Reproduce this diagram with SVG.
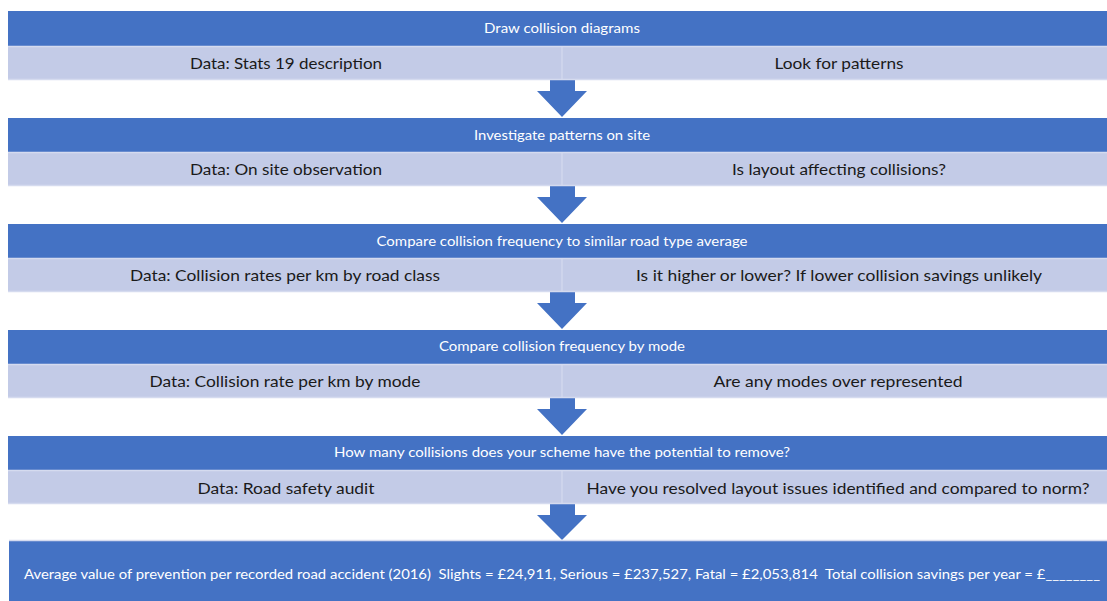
<svg xmlns="http://www.w3.org/2000/svg" width="1107" height="601" viewBox="0 0 1107 601">
<style>
.dark{fill:#4472C4}
.light{fill:#C3CBE7}
.edge{stroke:#D5DBEF;stroke-width:1.5;fill:none}
.div{stroke:#D8DDF0;stroke-width:1}
.t{font-family:Lato,"Liberation Sans",sans-serif;font-size:13px;fill:#FFFFFF;text-anchor:middle}
.s{font-family:Lato,"Liberation Sans",sans-serif;font-size:16px;fill:#1A1A1A;text-anchor:middle}
.b{font-family:Lato,"Liberation Sans",sans-serif;font-size:12.5px;fill:#FFFFFF;white-space:pre}
.arr{fill:#4472C4}
</style>
<rect width="1107" height="601" fill="#FFFFFF"/>
<g id="connectors">
<polygon class="arr" points="550,80 575,80 575,91 587,91 562,117 537,91 550,91"/>
<polygon class="arr" points="550,186 575,186 575,197 587,197 562,223 537,197 550,197"/>
<polygon class="arr" points="550,292 575,292 575,303 587,303 562,329 537,303 550,303"/>
<polygon class="arr" points="550,398 575,398 575,409 587,409 562,435 537,409 550,409"/>
<polygon class="arr" points="550,504 575,504 575,515 587,515 562,540 537,515 550,515"/>
</g>
<g id="step1">
<rect class="dark" x="8" y="11" width="1110" height="35"/>
<rect class="light" x="8" y="46" width="1110" height="34"/>
<line class="edge" x1="8" y1="46.5" x2="1107" y2="46.5"/>
<line class="edge" x1="8" y1="79.5" x2="1107" y2="79.5"/>
<line class="div" x1="562" y1="47" x2="562" y2="79"/>
<text class="t" x="562" y="33" textLength="156" lengthAdjust="spacingAndGlyphs">Draw collision diagrams</text>
<text class="s" x="286" y="69" textLength="192" lengthAdjust="spacingAndGlyphs">Data: Stats 19 description</text>
<text class="s" x="839" y="69" textLength="129" lengthAdjust="spacingAndGlyphs">Look for patterns</text>
</g>
<g id="step2">
<rect class="dark" x="8" y="118" width="1110" height="34"/>
<rect class="light" x="8" y="152" width="1110" height="34"/>
<line class="edge" x1="8" y1="152.5" x2="1107" y2="152.5"/>
<line class="edge" x1="8" y1="185.5" x2="1107" y2="185.5"/>
<line class="div" x1="562" y1="153" x2="562" y2="185"/>
<text class="t" x="562" y="139.5" textLength="176" lengthAdjust="spacingAndGlyphs">Investigate patterns on site</text>
<text class="s" x="286" y="175" textLength="192" lengthAdjust="spacingAndGlyphs">Data: On site observation</text>
<text class="s" x="839" y="175" textLength="214" lengthAdjust="spacingAndGlyphs">Is layout affecting collisions?</text>
</g>
<g id="step3">
<rect class="dark" x="8" y="224" width="1110" height="34"/>
<rect class="light" x="8" y="258" width="1110" height="34"/>
<line class="edge" x1="8" y1="258.5" x2="1107" y2="258.5"/>
<line class="edge" x1="8" y1="291.5" x2="1107" y2="291.5"/>
<line class="div" x1="562" y1="259" x2="562" y2="291"/>
<text class="t" x="562" y="245.5" textLength="371" lengthAdjust="spacingAndGlyphs">Compare collision frequency to similar road type average</text>
<text class="s" x="285" y="281" textLength="310" lengthAdjust="spacingAndGlyphs">Data: Collision rates per km by road class</text>
<text class="s" x="839" y="281" textLength="406" lengthAdjust="spacingAndGlyphs">Is it higher or lower? If lower collision savings unlikely</text>
</g>
<g id="step4">
<rect class="dark" x="8" y="330" width="1110" height="34"/>
<rect class="light" x="8" y="364" width="1110" height="34"/>
<line class="edge" x1="8" y1="364.5" x2="1107" y2="364.5"/>
<line class="edge" x1="8" y1="397.5" x2="1107" y2="397.5"/>
<line class="div" x1="562" y1="365" x2="562" y2="397"/>
<text class="t" x="562" y="351" textLength="246" lengthAdjust="spacingAndGlyphs">Compare collision frequency by mode</text>
<text class="s" x="285" y="387" textLength="271" lengthAdjust="spacingAndGlyphs">Data: Collision rate per km by mode</text>
<text class="s" x="838" y="387" textLength="249" lengthAdjust="spacingAndGlyphs">Are any modes over represented</text>
</g>
<g id="step5">
<rect class="dark" x="8" y="436" width="1110" height="34"/>
<rect class="light" x="8" y="470" width="1110" height="34"/>
<line class="edge" x1="8" y1="470.5" x2="1107" y2="470.5"/>
<line class="edge" x1="8" y1="503.5" x2="1107" y2="503.5"/>
<line class="div" x1="562" y1="471" x2="562" y2="503"/>
<text class="t" x="562" y="457" textLength="456" lengthAdjust="spacingAndGlyphs">How many collisions does your scheme have the potential to remove?</text>
<text class="s" x="286" y="494" textLength="177" lengthAdjust="spacingAndGlyphs">Data: Road safety audit</text>
<text class="s" x="838" y="494" textLength="503" lengthAdjust="spacingAndGlyphs">Have you resolved layout issues identified and compared to norm?</text>
</g>
<g id="summary">
<rect class="dark" x="9" y="540" width="1110" height="62"/>
<line class="edge" x1="9" y1="540.5" x2="1107" y2="540.5"/>
<text class="b" x="24" y="579" textLength="1076" lengthAdjust="spacingAndGlyphs" xml:space="preserve">Average value of prevention per recorded road accident (2016)  Slights = £24,911, Serious = £237,527, Fatal = £2,053,814  Total collision savings per year = £________</text>
</g>
</svg>
